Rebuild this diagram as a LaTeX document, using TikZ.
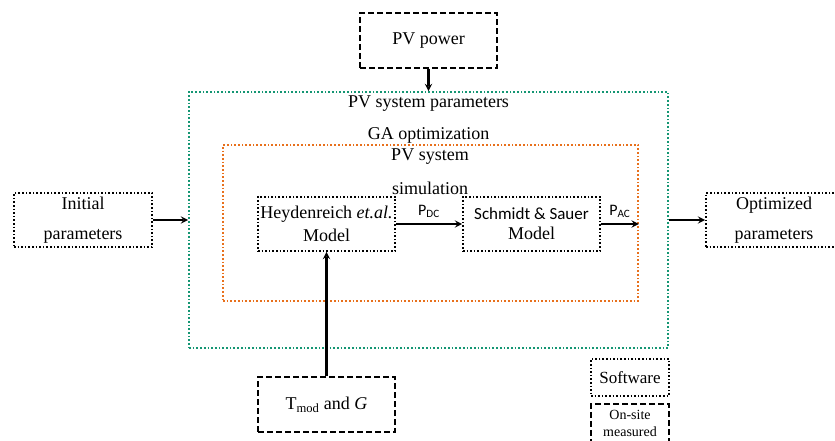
\documentclass[tikz,border=0pt]{standalone}
\usepackage{fontspec}
\setmainfont{Liberation Serif}
\newfontfamily\calibri{Carlito}
\definecolor{gaGreen}{RGB}{20,150,115}
\definecolor{simOrange}{RGB}{232,112,28}
\begin{document}
\begin{tikzpicture}[
    x=1pt, y=-1pt,
    every node/.append style={font=\fontsize{18}{23}\selectfont, inner sep=0pt},
    software/.style={draw, dotted, line width=1.6pt, minimum width=137pt, minimum height=54pt, align=center},
    measured/.style={draw, dash pattern=on 6pt off 3pt, line width=1.7pt, minimum width=137pt, minimum height=55pt, align=center},
    frame/.style={draw, dotted, line width=1.7pt},
    flow/.style={draw, line width=2.2pt, ->, >=stealth},
]
\useasboundingbox (0,0) rectangle (835,441);

% outer frames
\node[frame, gaGreen, minimum width=479pt, minimum height=256pt] (ga) at (428.5,220) {};
\node[frame, simOrange, minimum width=415pt, minimum height=156pt] (sim) at (430.5,223) {};
\node (gaTitle) at (428.5,104) {PV system parameters};
\node (gaOpt) at (428.5,135) {GA optimization};
\node (simTitle) at (430,157) {PV system};
\node (simSub) at (430,188) {simulation};

% blocks
\node[measured] (power) at (428.5,40.5) {PV power};
\node[software, minimum width=138pt, font=\fontsize{18}{30}\selectfont] (init) at (83,220) {Initial\\parameters};
\node[software, minimum width=136pt, font=\fontsize{18}{30}\selectfont] (opt) at (774,220) {Optimized\\parameters};
\node[software] (heyd) at (326.5,224) {Heydenreich \textit{et.al.}\\Model};
\node[software, font=\fontsize{18}{20}\selectfont] (schmidt) at (531.5,224) {{\calibri\fontsize{17}{20}\selectfont Schmidt \& Sauer}\\Model};
\node[measured] (meteo) at (326.5,404.5) {T\textsubscript{mod} and \textit{G}};

% legend
\node[software, minimum width=78pt, minimum height=37pt, font=\fontsize{17}{20}\selectfont] (legSw) at (630,377.5) {Software};
\node[measured, minimum width=78pt, minimum height=52pt, anchor=north] (legMeas) at (630,403) {};
\node[font=\fontsize{14}{17}\selectfont, align=center] (legMeasText) at (630,423) {On-site\\measured};

% connections
\draw[flow] (power) -- (ga.north);
\draw[flow] (init) -- (ga.west);
\draw[flow] (ga.east) -- (opt);
\draw[flow] (meteo) -- (heyd);
\draw[flow] (heyd) -- node[above=5pt, font=\calibri\fontsize{16}{18}\selectfont] {P\textsubscript{DC}} (schmidt);
\draw[flow] (schmidt) -- node[above=5pt, font=\calibri\fontsize{16}{18}\selectfont] {P\textsubscript{AC}} (schmidt.east -| sim.east);

\end{tikzpicture}
\end{document}
